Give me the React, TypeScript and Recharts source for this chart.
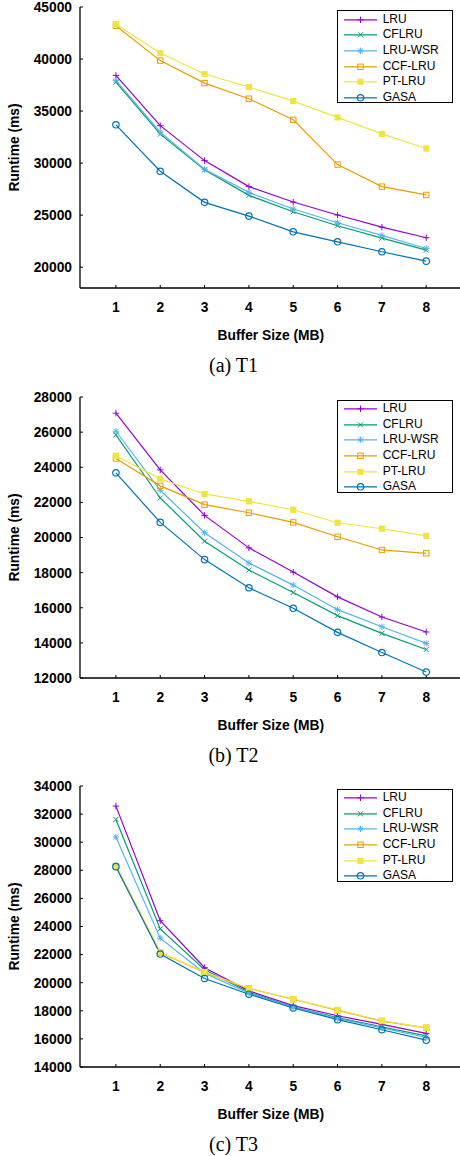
import React from 'react';
import { LineChart, Line, XAxis, YAxis, Legend } from 'recharts';

// buffer sizes (MB)
const sizes = [1, 2, 3, 4, 5, 6, 7, 8];
const sizesMinor = [0.5, 1.5, 2.5, 3.5, 4.5, 5.5, 6.5, 7.5, 8.5];

// (a) T1
const t1Lru = [38430, 33600, 30240, 27740, 26260, 25010, 23850, 22830];
const t1Cflru = [37790, 32780, 29350, 26900, 25330, 23980, 22790, 21640];
const t1LruWsr = [37950, 32970, 29410, 27190, 25590, 24270, 23050, 21800];
const t1CcfLru = [43200, 39850, 37690, 36190, 34160, 29860, 27740, 26940];
const t1PtLru = [43350, 40580, 38560, 37310, 35960, 34390, 32810, 31400];
const t1Gasa = [33680, 29220, 26230, 24910, 23400, 22440, 21480, 20580];
const t1Ticks = [20000, 25000, 30000, 35000, 40000, 45000];
const t1Minor = [22500, 27500, 32500, 37500, 42500];

// (b) T2
const t2Lru = [27080, 23850, 21260, 19410, 18030, 16620, 15470, 14620];
const t2Cflru = [25840, 22250, 19790, 18150, 16870, 15550, 14540, 13620];
const t2LruWsr = [26050, 22690, 20270, 18550, 17290, 15890, 14920, 13970];
const t2CcfLru = [24500, 22940, 21870, 21410, 20860, 20040, 19290, 19100];
const t2PtLru = [24660, 23340, 22480, 22060, 21580, 20840, 20500, 20090];
const t2Gasa = [23680, 20860, 18740, 17140, 15970, 14600, 13450, 12340];
const t2Ticks = [12000, 14000, 16000, 18000, 20000, 22000, 24000, 26000, 28000];
const t2Minor = [13000, 15000, 17000, 19000, 21000, 23000, 25000, 27000];

// (c) T3
const t3Lru = [32570, 24410, 21070, 19420, 18370, 17650, 17030, 16390];
const t3Cflru = [31620, 23830, 20920, 19320, 18270, 17510, 16860, 16220];
const t3LruWsr = [30370, 23170, 20680, 19250, 18250, 17460, 16790, 16100];
const t3CcfLru = [28300, 22140, 20730, 19590, 18820, 18030, 17270, 16790];
const t3PtLru = [28320, 22160, 20750, 19590, 18820, 18060, 17290, 16790];
const t3Gasa = [28260, 22040, 20300, 19180, 18200, 17370, 16650, 15910];
const t3Ticks = [14000, 16000, 18000, 20000, 22000, 24000, 26000, 28000, 30000, 32000, 34000];
const t3Minor = [15000, 17000, 19000, 21000, 23000, 25000, 27000, 29000, 31000, 33000];

const SERIES = [
  { name: 'LRU', color: '#9400d3', shape: 'plus' },
  { name: 'CFLRU', color: '#009e73', shape: 'cross' },
  { name: 'LRU-WSR', color: '#56b4e9', shape: 'star' },
  { name: 'CCF-LRU', color: '#e69f00', shape: 'square' },
  { name: 'PT-LRU', color: '#f0e442', shape: 'fsquare' },
  { name: 'GASA', color: '#0072b2', shape: 'circle' },
];

const buildRows = (cols: number[][]) =>
  sizes.map((size, i) => {
    const row: Record<string, number> = { size };
    SERIES.forEach((s, k) => {
      row[s.name] = cols[k][i];
    });
    return row;
  });

const SANS = '"Liberation Sans", Arial, Helvetica, sans-serif';
const SERIF = '"Liberation Serif", "Times New Roman", serif';
const PLOT_H = 281;
const TOP_M = 10;
const AXIS_H = 60;
const CHART_W = 472;
const X_DOMAIN: [number, number] = [0.19, 8.8];

function Marker({ shape, cx, cy, color }: { shape: string; cx: number; cy: number; color: string }) {
  const s = 3.2;
  const d = 2.5;
  if (shape === 'plus') {
    return (
      <g stroke={color} strokeWidth={1}>
        <line x1={cx - s} y1={cy} x2={cx + s} y2={cy} />
        <line x1={cx} y1={cy - s} x2={cx} y2={cy + s} />
      </g>
    );
  }
  if (shape === 'cross') {
    return (
      <g stroke={color} strokeWidth={1}>
        <line x1={cx - d} y1={cy - d} x2={cx + d} y2={cy + d} />
        <line x1={cx - d} y1={cy + d} x2={cx + d} y2={cy - d} />
      </g>
    );
  }
  if (shape === 'star') {
    return (
      <g stroke={color} strokeWidth={1}>
        <line x1={cx - s} y1={cy} x2={cx + s} y2={cy} />
        <line x1={cx} y1={cy - s} x2={cx} y2={cy + s} />
        <line x1={cx - d} y1={cy - d} x2={cx + d} y2={cy + d} />
        <line x1={cx - d} y1={cy + d} x2={cx + d} y2={cy - d} />
      </g>
    );
  }
  if (shape === 'square') {
    return <rect x={cx - 2.7} y={cy - 2.7} width={5.4} height={5.4} fill="none" stroke={color} strokeWidth={1} />;
  }
  if (shape === 'fsquare') {
    return <rect x={cx - 3.1} y={cy - 3.1} width={6.2} height={6.2} fill={color} />;
  }
  return <circle cx={cx} cy={cy} r={3.2} fill="none" stroke={color} strokeWidth={1.2} />;
}

const LegendBox = () => (
  <div style={{ border: '1.3px solid #000', background: '#fff', width: 116, height: 93, boxSizing: 'border-box', paddingTop: 0.5 }}>
    {SERIES.map((s) => (
      <div key={s.name} style={{ display: 'flex', alignItems: 'center', height: 15.6 }}>
        <svg width={45} height={15.6} style={{ display: 'block' }}>
          <line x1={6} x2={39} y1={7.8} y2={7.8} stroke={s.color} strokeWidth={1.2} />
          <Marker shape={s.shape} cx={22.5} cy={7.8} color={s.color} />
        </svg>
        <span style={{ fontFamily: SANS, fontSize: 12, color: '#000', lineHeight: '15.6px' }}>{s.name}</span>
      </div>
    ))}
  </div>
);

const tickFont = { fontFamily: SANS, fontWeight: 'bold', fontSize: 13.8, fill: '#000' };
const frame = { stroke: '#000', strokeWidth: 1.3 };
const tickStroke = { stroke: '#000', strokeWidth: 1 };

type PanelProps = {
  cols: number[][];
  yDomain: [number, number];
  yTicks: number[];
  yMinor: number[];
  top: number;
  caption: string;
};

function Panel({ cols, yDomain, yTicks, yMinor, top, caption }: PanelProps) {
  const rows = buildRows(cols);
  const h = TOP_M + PLOT_H + AXIS_H;
  return (
    <>
      <div style={{ position: 'absolute', left: 0, top: top - TOP_M, width: CHART_W, height: h }}>
        <LineChart width={CHART_W} height={h} data={rows} margin={{ top: TOP_M, right: 10.3, bottom: 0, left: 0 }}>
          <XAxis
            xAxisId="main"
            dataKey="size"
            type="number"
            domain={X_DOMAIN}
            allowDataOverflow
            ticks={sizes}
            height={AXIS_H}
            axisLine={frame}
            tickLine={tickStroke}
            tickSize={-3}
            tickMargin={17}
            tick={tickFont}
            label={(p: any) => (
              <text x={p.viewBox.x + p.viewBox.width / 2} y={p.viewBox.y + 52} textAnchor="middle" fontFamily={SANS} fontWeight="bold" fontSize={13.8} fill="#000">
                Buffer Size (MB)
              </text>
            )}
          />
          <XAxis xAxisId="top" orientation="top" dataKey="size" type="number" domain={X_DOMAIN} allowDataOverflow ticks={sizes} height={0} axisLine={frame} tick={false} tickSize={-3} tickLine={tickStroke} />
          {/* minor ticks, mirrored so they take no room */}
          <XAxis xAxisId="bm" mirror dataKey="size" type="number" domain={X_DOMAIN} allowDataOverflow ticks={sizesMinor} height={0} axisLine={false} tick={false} tickSize={1.5} tickLine={tickStroke} />
          <XAxis xAxisId="tm" mirror orientation="top" dataKey="size" type="number" domain={X_DOMAIN} allowDataOverflow ticks={sizesMinor} height={0} axisLine={false} tick={false} tickSize={1.5} tickLine={tickStroke} />
          <YAxis
            yAxisId="main"
            type="number"
            domain={yDomain}
            allowDataOverflow
            ticks={yTicks}
            width={80}
            axisLine={frame}
            tickLine={tickStroke}
            tickSize={-3}
            tickMargin={11}
            tick={tickFont}
            label={(p: any) => {
              const cy = p.viewBox.y + p.viewBox.height / 2;
              return (
                <text x={14.5} y={cy} transform={`rotate(-90, 14.5, ${cy})`} textAnchor="middle" dominantBaseline="central" fontFamily={SANS} fontWeight="bold" fontSize={13.8} fill="#000">
                  Runtime (ms)
                </text>
              );
            }}
          />
          <YAxis yAxisId="right" orientation="right" type="number" domain={yDomain} allowDataOverflow ticks={yTicks} width={0} axisLine={frame} tick={false} tickSize={-3} tickLine={tickStroke} />
          <YAxis yAxisId="lm" mirror type="number" domain={yDomain} allowDataOverflow ticks={yMinor} width={0} axisLine={false} tick={false} tickSize={1.5} tickLine={tickStroke} />
          <YAxis yAxisId="rm" mirror orientation="right" type="number" domain={yDomain} allowDataOverflow ticks={yMinor} width={0} axisLine={false} tick={false} tickSize={1.5} tickLine={tickStroke} />
          <Legend
            layout="vertical"
            align="center"
            verticalAlign="middle"
            content={() => <LegendBox />}
            wrapperStyle={{ position: 'absolute', left: 336.7, top: TOP_M + 3, width: 116, height: 93 }}
          />
          {SERIES.map((s) => (
            <Line
              key={s.name}
              xAxisId="main"
              yAxisId="main"
              type="linear"
              dataKey={s.name}
              stroke={s.color}
              strokeWidth={1.2}
              isAnimationActive={false}
              dot={(p: any) => <Marker key={`${s.name}-${p.index}`} shape={s.shape} cx={p.cx} cy={p.cy} color={s.color} />}
              activeDot={false}
            />
          ))}
        </LineChart>
      </div>
      <div style={{ position: 'absolute', left: 0, width: 467, top: top + PLOT_H + 77 - 12, height: 24, lineHeight: '24px', textAlign: 'center', fontFamily: SERIF, fontSize: 20, color: '#000' }}>
        {caption}
      </div>
    </>
  );
}

export default function App() {
  return (
    <div style={{ position: 'absolute', left: 0, top: 0, width: 460, height: 1156, overflow: 'hidden', background: '#fff' }}>
      <Panel cols={[t1Lru, t1Cflru, t1LruWsr, t1CcfLru, t1PtLru, t1Gasa]} yDomain={[18000, 45000]} yTicks={t1Ticks} yMinor={t1Minor} top={7.3} caption="(a) T1" />
      <Panel cols={[t2Lru, t2Cflru, t2LruWsr, t2CcfLru, t2PtLru, t2Gasa]} yDomain={[12000, 28000]} yTicks={t2Ticks} yMinor={t2Minor} top={396.7} caption="(b) T2" />
      <Panel cols={[t3Lru, t3Cflru, t3LruWsr, t3CcfLru, t3PtLru, t3Gasa]} yDomain={[14000, 34000]} yTicks={t3Ticks} yMinor={t3Minor} top={785.7} caption="(c) T3" />
    </div>
  );
}
